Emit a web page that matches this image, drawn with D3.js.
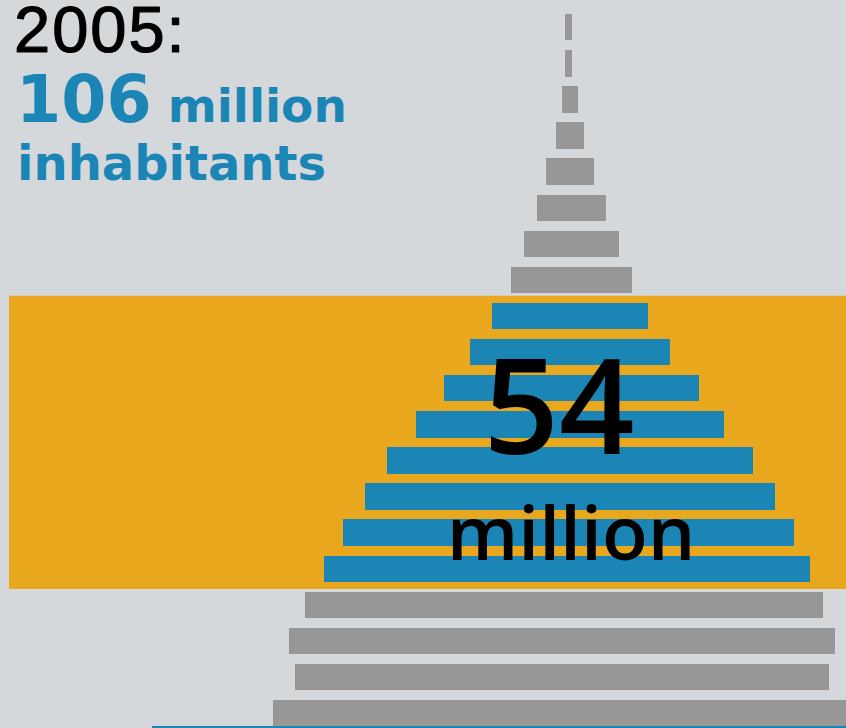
<!DOCTYPE html>
<html>
<head>
<meta charset="utf-8">
<script src="https://cdn.jsdelivr.net/npm/d3@7"></script>
<style>
  html, body { margin: 0; padding: 0; background: #d4d8db; overflow: hidden; }
  svg { display: block; }
</style>
</head>
<body>
<svg id="chart"></svg>
<script>
// Population by five-year age group, 2005 (thousands of people)
const year = "2005";
const ageGroups = ["0-4", "5-9", "10-14", "15-19", "20-24", "25-29", "30-34", "35-39",
                   "40-44", "45-49", "50-54", "55-59", "60-64", "65-69", "70-74",
                   "75-79", "80-84", "85-89", "90-94", "95+"];
// left half of each bar
const males   = [6010, 5560, 5690, 5360, 4970, 4590, 4140, 3690, 3100, 2530,
                 2000, 1550, 1160, 900, 630, 450, 245, 120, 60, 60];
// right half of each bar
const females = [5810, 5320, 5440, 5200, 4930, 4610, 4220, 3770, 3180, 2670,
                 2080, 1630, 1300, 1040, 775, 530, 325, 205, 80, 80];
// working-age block that is highlighted
const highlightGroups = ["20-24", "25-29", "30-34", "35-39", "40-44", "45-49", "50-54", "55-59"];

const W = 846, H = 728;
const colors = {
  bg: "#d4d8db",
  bar: "#979797",
  highlight: "#1b85b6",
  band: "#e9a71d",
  text: "#000000"
};

const svg = d3.select("#chart").attr("width", W).attr("height", H);
svg.append("rect").attr("width", W).attr("height", H).attr("fill", colors.bg);

const data = ageGroups.map((g, i) => ({ group: g, male: males[i], female: females[i] }));
const total = d3.sum(data, d => d.male + d.female);
const highlighted = data.filter(d => highlightGroups.includes(d.group));
const highlightTotal = d3.sum(highlighted, d => d.male + d.female);

// Vertical layout: oldest group at the top
const y = d3.scaleBand()
  .domain(ageGroups.slice().reverse())
  .range([14, 726.4])
  .paddingInner(0.266)
  .paddingOuter(0);

// Horizontal: half-widths grow out from a central axis
const axisX = 568;
const x = d3.scaleLinear().domain([0, 6000]).range([0, 294.4]);

// Highlight band behind the working-age bars
const bandPad = 7;
const hiTop = d3.min(highlightGroups, g => y(g)) - bandPad;
const hiBottom = d3.max(highlightGroups, g => y(g)) + y.bandwidth() + bandPad;
svg.append("rect")
  .attr("x", 9).attr("y", hiTop)
  .attr("width", W - 9).attr("height", hiBottom - hiTop)
  .attr("fill", colors.band);

// Bars
svg.append("g")
  .attr("shape-rendering", "crispEdges")
  .selectAll("rect")
  .data(data)
  .join("rect")
  .attr("x", d => axisX - x(d.male))
  .attr("y", d => y(d.group))
  .attr("width", d => x(d.male) + x(d.female))
  .attr("height", y.bandwidth())
  .attr("fill", d => highlightGroups.includes(d.group) ? colors.highlight : colors.bar);

// Baseline rule along the bottom
svg.append("rect")
  .attr("x", 152).attr("y", 726)
  .attr("width", W - 152).attr("height", 2)
  .attr("fill", colors.highlight);

// Title block
svg.append("text")
  .attr("x", 14).attr("y", 52)
  .attr("font-family", "'Liberation Sans', Arial, sans-serif")
  .attr("font-size", 65)
  .attr("letter-spacing", 2)
  .attr("fill", colors.text)
  .attr("stroke", colors.text)
  .attr("stroke-width", 1.2)
  .attr("stroke-linejoin", "round")
  .text(year + ":");

const line2 = svg.append("text")
  .attr("x", 16).attr("y", 122)
  .attr("font-family", "'DejaVu Sans', sans-serif")
  .attr("font-weight", "bold")
  .attr("fill", colors.highlight);
line2.append("tspan").attr("font-size", 65).text(Math.round(total / 1000));
line2.append("tspan").attr("font-size", 47).attr("dx", 16).text("million");

svg.append("text")
  .attr("x", 17).attr("y", 180)
  .attr("font-family", "'DejaVu Sans', sans-serif")
  .attr("font-weight", "bold")
  .attr("font-size", 48)
  .attr("fill", colors.highlight)
  .text("inhabitants");

// Highlight label
svg.append("text")
  .attr("x", axisX - 9).attr("y", 454)
  .attr("text-anchor", "middle")
  .attr("font-family", "'Open Sans', sans-serif")
  .attr("font-weight", 600)
  .attr("font-size", 132)
  .attr("fill", colors.text)
  .text(Math.round(highlightTotal / 1000));

svg.append("text")
  .attr("x", axisX + 3).attr("y", 560)
  .attr("text-anchor", "middle")
  .attr("font-family", "'Open Sans', sans-serif")
  .attr("font-weight", 600)
  .attr("font-size", 75)
  .attr("fill", colors.text)
  .text("million");
</script>
</body>
</html>
